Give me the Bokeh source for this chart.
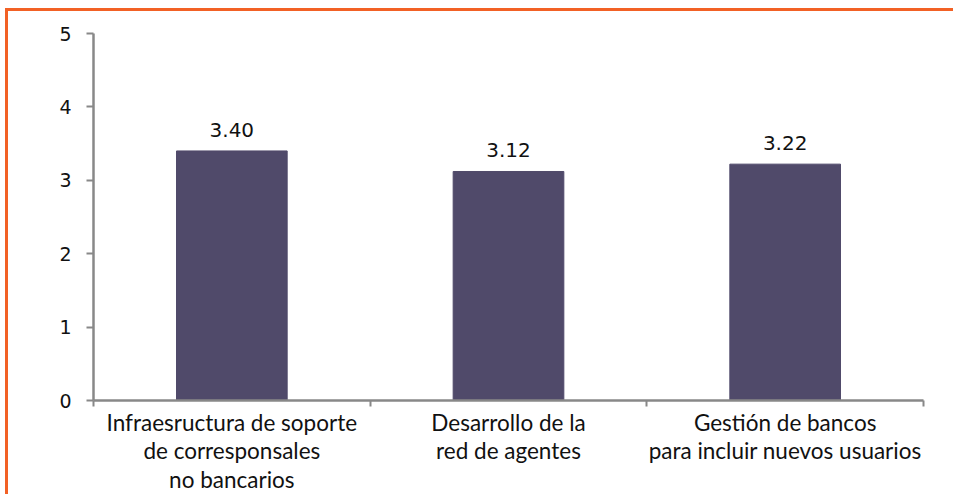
from bokeh.plotting import figure
from bokeh.models import ColumnDataSource, FixedTicker, Range1d, LabelSet
from bokeh.embed import file_html
from bokeh.resources import INLINE
from bokeh.core.properties import value

categories = ["Infraesructura de soporte\nde corresponsales\nno bancarios",
              "Desarrollo de la\nred de agentes",
              "Gestión de bancos\npara incluir nuevos usuarios"]
values = [3.40, 3.12, 3.22]
labels = ["3.40", "3.12", "3.22"]
y_ticks = [0, 1, 2, 3, 4, 5]

xs = [i + 0.5 for i in range(len(categories))]
src = ColumnDataSource(dict(x=xs, top=values, lab=labels))

p = figure(frame_width=830, frame_height=367, output_backend="svg", toolbar_location=None,
           x_range=Range1d(0, len(categories)), y_range=Range1d(0, 5))
p.margin = (8, 0, 0, 5)
p.styles = {"border-top": "3px solid #F26125", "border-left": "3px solid #F26125"}
p.min_border_left = 85
p.min_border_right = 30
p.min_border_top = 22
p.min_border_bottom = 5
p.outline_line_color = None
p.grid.visible = False
p.background_fill_color = "white"
p.border_fill_color = "white"

p.vbar(x="x", top="top", width=0.4, bottom=0, source=src,
       fill_color="#504A6A", line_color="#504A6A")

lbl = LabelSet(x="x", y="top", text="lab", source=src, text_align="center",
               text_baseline="alphabetic", y_offset=14, text_font=value("DejaVu Sans"),
               text_font_size="20px", text_color="#111111")
p.add_layout(lbl)

xa = p.xaxis[0]
xa.ticker = FixedTicker(ticks=xs, minor_ticks=list(range(len(categories) + 1)))
xa.major_label_overrides = {x: c for x, c in zip(xs, categories)}
xa.major_tick_out = 0
xa.major_tick_in = 0
xa.minor_tick_out = 6
xa.minor_tick_in = 0
xa.minor_tick_line_color = "#888888"
xa.minor_tick_line_width = 2
xa.axis_line_color = "#888888"
xa.axis_line_width = 2.5
xa.major_label_text_font = "Lato"
xa.major_label_text_font_size = "22.5px"
xa.major_label_text_color = "#111111"
xa.major_label_text_line_height = 1.07
xa.major_label_standoff = 2

ya = p.yaxis[0]
ya.ticker = FixedTicker(ticks=y_ticks, minor_ticks=[])
ya.major_tick_out = 7
ya.major_tick_in = 0
ya.major_tick_line_color = "#888888"
ya.major_tick_line_width = 2
ya.axis_line_color = "#888888"
ya.axis_line_width = 2.5
ya.major_label_text_font = "DejaVu Sans"
ya.major_label_text_font_size = "19px"
ya.major_label_text_color = "#111111"
ya.major_label_standoff = 15

open("out.html", "w").write(file_html(p, INLINE))
